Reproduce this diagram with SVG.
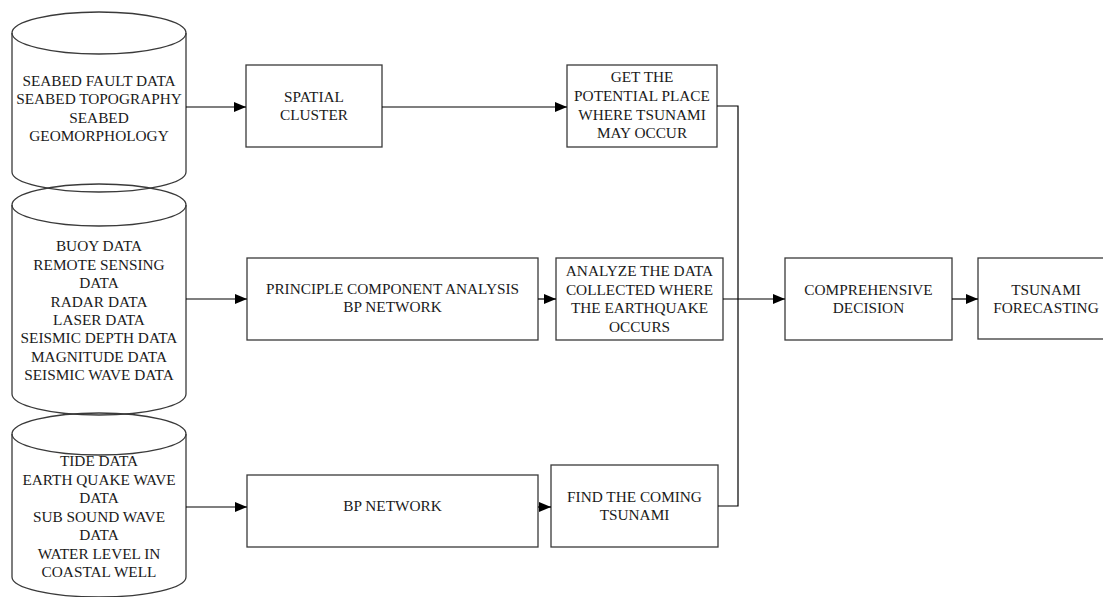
<svg xmlns="http://www.w3.org/2000/svg" width="1103" height="597" viewBox="0 0 1103 597">
  <defs>
    <marker id="arrow" viewBox="0 0 12 10" refX="12" refY="5" markerWidth="12" markerHeight="10" markerUnits="userSpaceOnUse" orient="auto">
      <path d="M0,0 L12,5 L0,10 Z" fill="#000"/>
    </marker>
    <style>
      .shape { fill: none; stroke: #3a3a3a; stroke-width: 1.3; }
      .link { fill: none; stroke: #000; stroke-width: 1.2; }
      .arrowed { marker-end: url(#arrow); }
      text { font-family: "Liberation Serif", "Times New Roman", serif; font-size: 15.3px; fill: #1a1a1a; text-anchor: middle; }
    </style>
  </defs>
  <rect width="1103" height="597" fill="#fff"/>

  <!-- Data store: seabed -->
  <g id="store-seabed">
    <path class="shape" d="M12,33 L12,172 A87,20 0 0 0 186,172 L186,33"/>
    <ellipse class="shape" cx="99" cy="33" rx="87" ry="21"/>
    <text x="99" y="86">SEABED FAULT DATA</text>
    <text x="99" y="104">SEABED TOPOGRAPHY</text>
    <text x="99" y="123">SEABED</text>
    <text x="99" y="141">GEOMORPHOLOGY</text>
  </g>

  <!-- Data store: observation data -->
  <g id="store-observation">
    <path class="shape" d="M12,205 L12,394 A87,21 0 0 0 186,394 L186,205"/>
    <ellipse class="shape" cx="99" cy="205" rx="87" ry="21"/>
    <text x="99" y="251">BUOY DATA</text>
    <text x="99" y="270">REMOTE SENSING</text>
    <text x="99" y="288">DATA</text>
    <text x="99" y="307">RADAR DATA</text>
    <text x="99" y="325">LASER DATA</text>
    <text x="99" y="343">SEISMIC DEPTH DATA</text>
    <text x="99" y="362">MAGNITUDE DATA</text>
    <text x="99" y="380">SEISMIC WAVE DATA</text>
  </g>

  <!-- Data store: wave and water data -->
  <g id="store-wave">
    <path class="shape" d="M12,434 L12,577 A87,20 0 0 0 186,577 L186,434"/>
    <ellipse class="shape" cx="99" cy="434" rx="87" ry="21"/>
    <text x="99" y="466">TIDE DATA</text>
    <text x="99" y="485">EARTH QUAKE WAVE</text>
    <text x="99" y="503">DATA</text>
    <text x="99" y="522">SUB SOUND WAVE</text>
    <text x="99" y="540">DATA</text>
    <text x="99" y="559">WATER LEVEL IN</text>
    <text x="99" y="577">COASTAL WELL</text>
  </g>

  <g id="spatial-cluster">
    <rect class="shape" x="246" y="65" width="136" height="82"/>
    <text x="314" y="102">SPATIAL</text>
    <text x="314" y="120">CLUSTER</text>
  </g>

  <g id="potential-place">
    <rect class="shape" x="567" y="65" width="150" height="82"/>
    <text x="642" y="82">GET THE</text>
    <text x="642" y="101">POTENTIAL PLACE</text>
    <text x="642" y="120">WHERE TSUNAMI</text>
    <text x="642" y="138">MAY OCCUR</text>
  </g>

  <g id="pca-bp">
    <rect class="shape" x="247" y="258" width="291" height="82"/>
    <text x="392.5" y="294">PRINCIPLE COMPONENT ANALYSIS</text>
    <text x="392.5" y="312">BP NETWORK</text>
  </g>

  <g id="analyze-data">
    <rect class="shape" x="556" y="258" width="167" height="82"/>
    <text x="639.5" y="276">ANALYZE THE DATA</text>
    <text x="639.5" y="295">COLLECTED WHERE</text>
    <text x="639.5" y="313">THE EARTHQUAKE</text>
    <text x="639.5" y="332">OCCURS</text>
  </g>

  <g id="bp-network">
    <rect class="shape" x="247" y="475" width="291" height="72"/>
    <text x="392.5" y="511">BP NETWORK</text>
  </g>

  <g id="find-tsunami">
    <rect class="shape" x="551" y="465" width="167" height="82"/>
    <text x="634.5" y="502">FIND THE COMING</text>
    <text x="634.5" y="520">TSUNAMI</text>
  </g>

  <g id="comprehensive-decision">
    <rect class="shape" x="785" y="258" width="167" height="82"/>
    <text x="868.5" y="295">COMPREHENSIVE</text>
    <text x="868.5" y="313">DECISION</text>
  </g>

  <g id="tsunami-forecasting">
    <rect class="shape" x="978" y="258" width="136" height="81"/>
    <text x="1046" y="295">TSUNAMI</text>
    <text x="1046" y="313">FORECASTING</text>
  </g>

  <g id="connectors">
    <line class="link arrowed" x1="186" y1="107" x2="246" y2="107"/>
    <line class="link arrowed" x1="382" y1="107" x2="567" y2="107"/>
    <line class="link arrowed" x1="186" y1="299" x2="247" y2="299"/>
    <line class="link arrowed" x1="538" y1="299" x2="556" y2="299"/>
    <line class="link arrowed" x1="186" y1="507" x2="247" y2="507"/>
    <line class="link arrowed" x1="538" y1="507" x2="551" y2="507"/>
    <polyline class="link" points="717,106 738,106 738,299"/>
    <polyline class="link" points="718,506 738,506 738,299"/>
    <line class="link arrowed" x1="723" y1="299" x2="785" y2="299"/>
    <line class="link arrowed" x1="952" y1="299" x2="978" y2="299"/>
  </g>
</svg>
